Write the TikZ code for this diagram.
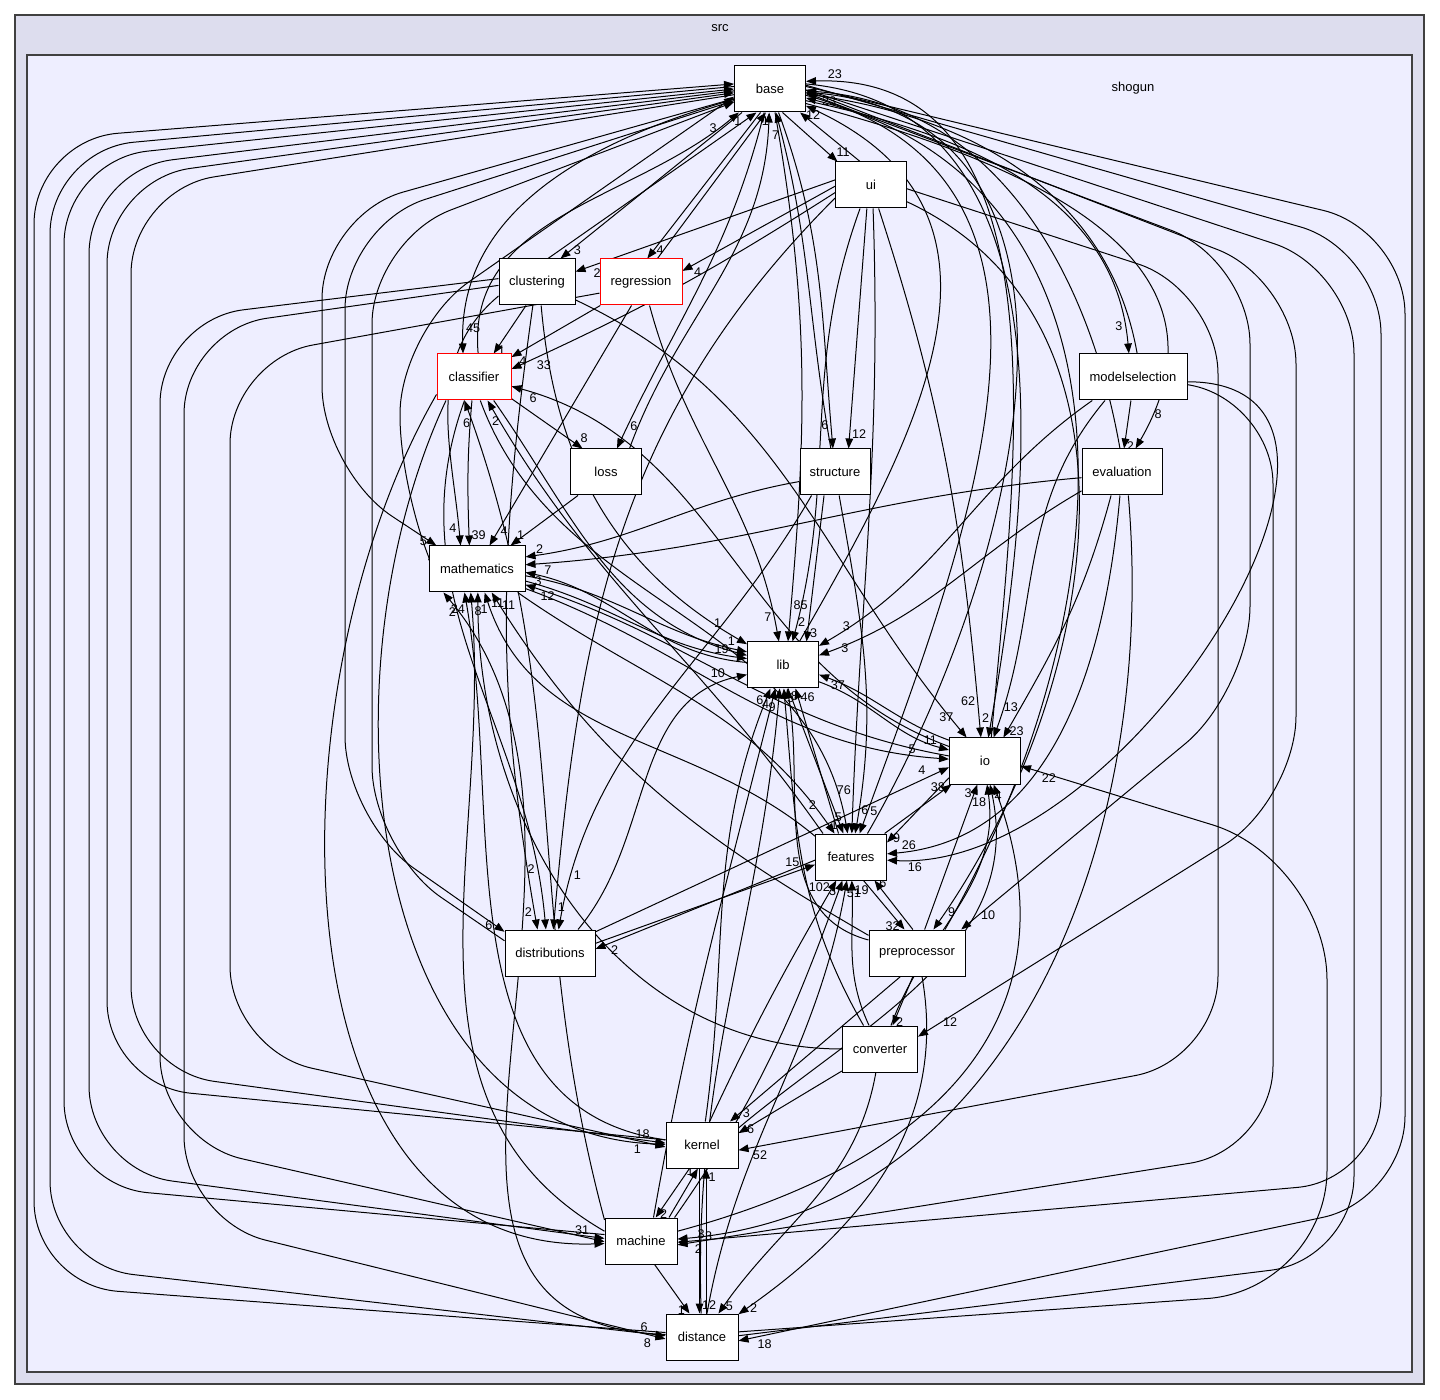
\documentclass[tikz,border=0pt]{standalone}
\usepackage{fontspec}
\setmainfont{Liberation Sans}
\usetikzlibrary{arrows.meta}
\definecolor{srcbg}{HTML}{DDDDEE}
\definecolor{shogunbg}{HTML}{EEEEFF}
\pgfdeclarelayer{background}
\pgfdeclarelayer{edges}
\pgfsetlayers{background,edges,main}

\begin{document}
\begin{tikzpicture}[
  x=0.5pt, y=0.5pt,
  every node/.style={font=\fontsize{6.5}{7}\selectfont},
  cluster/.style={draw=black!75, line width=0.6pt},
  dir/.style={draw=black, fill=white, line width=0.5pt, minimum width=35.5pt, minimum height=23pt, inner sep=2pt},
  reddir/.style={dir, draw=red},
  dep/.style={-{Triangle[length=5pt,width=3.8pt]}, line width=0.5pt},
  route/.style={dep, rounded corners=42pt},
  hl/.style={font=\fontsize{6.3}{6.3}\selectfont, inner sep=1pt, pos=.94},
  hln/.style={hl, pos=.975}
]

\useasboundingbox (0,0) rectangle (1440,-1400);

% === CLUSTERS ===
\begin{pgfonlayer}{background}
\filldraw[cluster, fill=srcbg] (15,-15) rectangle (1424,-1384);
\filldraw[cluster, fill=shogunbg] (27,-55) rectangle (1412,-1372);
\end{pgfonlayer}
\node (srclabel) at (720,-28) {src};
\node (shogunlabel) at (1133,-88) {shogun};

% === DIRECTORIES ===
\node[dir]                        (base)           at (770,-89)   {base};
\node[dir]                        (ui)             at (871,-185)  {ui};
\node[dir, minimum width=38pt]    (clustering)     at (537,-282)  {clustering};
\node[reddir, minimum width=41pt] (regression)     at (641,-282)  {regression};
\node[reddir, minimum width=37pt] (classifier)     at (474,-377)  {classifier};
\node[dir, minimum width=54pt]    (modelselection) at (1133,-377) {modelselection};
\node[dir]                        (loss)           at (606,-472)  {loss};
\node[dir, minimum width=35pt]    (structure)      at (835,-472)  {structure};
\node[dir, minimum width=40pt]    (evaluation)     at (1122,-472) {evaluation};
\node[dir, minimum width=48pt]    (mathematics)    at (477,-569)  {mathematics};
\node[dir]                        (lib)            at (783,-665)  {lib};
\node[dir]                        (io)             at (985,-761)  {io};
\node[dir]                        (features)       at (851,-857)  {features};
\node[dir, minimum width=45pt]    (distributions)  at (550,-953)  {distributions};
\node[dir, minimum width=48pt]    (preprocessor)   at (917,-953)  {preprocessor};
\node[dir, minimum width=37.5pt]  (converter)      at (880,-1049) {converter};
\node[dir, minimum width=36pt]    (kernel)         at (702,-1145) {kernel};
\node[dir, minimum width=36pt]    (machine)        at (641,-1241) {machine};
\node[dir, minimum width=36pt]    (distance)       at (702,-1337) {distance};

\begin{pgfonlayer}{edges}
% === BASE / UI ===
\draw[dep] (ui.115) -- node[hl,right] {12} (base.-38);
\draw[dep] (base.-62) -- node[hl,above right] {11} (ui.145);
\draw[dep] (base.-140) -- node[hl,right] {3} (clustering.45);
\draw[dep] (clustering.65) -- node[hl,left] {1} (base.-120);
\draw[dep] (base.-112) -- node[hl,right] {4} (regression.75);
\draw[dep] (regression.55) -- node[hl,right] {1} (base.-100);
\draw[dep] (ui.172) -- node[hl,below right] {2} (clustering.15);
\draw[dep] (ui.182) -- node[hl,below right] {4} (regression.15);
\draw[dep] (ui.192) to[bend left=4] node[hl,below right] {33} (classifier.12);
\draw[dep] (base.-70) to[out=-70,in=95] node[hl,left] {6} (structure.95);
\draw[dep] (structure.100) to[out=100,in=-75] node[hl,left] {7} (base.-76);
\draw[dep] (ui.-100) -- node[hl,right] {12} (structure.60);
\draw[dep] (base.-18) to[out=-12,in=95] node[hl,left] {3} (modelselection.100);
\draw[dep] (modelselection.80) to[out=100,in=-8] (base.-8);
\draw[dep] (base.-22) to[out=-15,in=60,looseness=1.2] node[hl,right] {8} (evaluation.60);
\draw[dep] (evaluation.95) to[out=100,in=-4] (base.-3);
\draw[dep] (modelselection.-95) -- node[hl,right] {2} (evaluation.85);

% === CLASSIFIER / LOSS ===
\draw[dep] (base.196) to[out=196,in=92] node[hl,right] {45} (classifier.115);
\draw[dep] (classifier.80) to[out=95,in=-140] node[hl,left] {3} (base.-143);
\draw[dep] (clustering.-115) -- node[hl,right] {1} (classifier.50);
\draw[dep] (regression.-150) -- node[hl,below right] {4} (classifier.28);
\draw[dep] (classifier.-30) -- node[hl,above right] {8} (loss.135);
\draw[dep] (base.-104) to[out=-104,in=65] node[hl,right] {6} (loss.65);
\draw[dep] (loss.45) to[out=70,in=-92] (base.-92);
\draw[dep] (machine.150) to[out=105,in=-70] node[hln,left] {6} (classifier.-112);
\draw[dep] (features.140) to[out=125,in=-60] node[hln,below] {2} (classifier.-60);
\draw[dep] (io.158) to[out=160,in=-15] node[hln,below right] {6} (classifier.-14);

% === MATHEMATICS ===
\draw[dep] (classifier.-95) to[out=-95,in=92] node[hl,right] {39} (mathematics.108);
\draw[dep] (clustering.-160) to[out=-140,in=95] node[hl,left] {4} (mathematics.125);
\draw[dep] (regression.-112) -- node[hl,right] {4} (mathematics.62);
\draw[dep] (loss.-140) -- node[hl,above right] {1} (mathematics.35);
\draw[route] (base.195) -- (322,-215) -- (322,-470) -- node[hl,left] {5} (mathematics.150);
\draw[route] (mathematics.168) -- (400,-500) -- (400,-330) -- (base.192);
\draw[dep] (structure.195) to[out=190,in=8] node[hln,above right] {2} (mathematics.14);
\draw[dep] (evaluation.188) to[out=185,in=4] node[hln,below right] {7} (mathematics.5);
\draw[dep] (mathematics.-8) to[out=-10,in=168] node[hl,above] {1} (lib.160);
\draw[dep] (mathematics.-14) to[out=-15,in=172] node[hl,above left] {19} (lib.170);
\draw[dep] (lib.176) to[out=175,in=-12] node[hln,below right] {3} (mathematics.-4);
\draw[dep] (io.172) to[out=170,in=-18] node[hln,below right] {12} (mathematics.-18);
\draw[dep] (mathematics.-22) to[out=-20,in=176] node[hl,above left] {5} (io.177);
\draw[dep] (mathematics.-30) to[out=-35,in=125] node[hl,above left] {2} (features.125);
\draw[dep] (distance.176) to[out=178,in=-50,looseness=1.1] node[hln,left] {2} (mathematics.-145);
\draw[dep] (kernel.172) to[out=172,in=-80] node[hln,left] {24} (mathematics.-118);
\draw[dep] (machine.165) to[out=150,in=-85] node[hln,right] {8} (mathematics.-105);
\draw[dep] (converter.180) to[out=180,in=-90] node[hln,right] {1} (mathematics.-88);
\draw[dep] (features.150) to[out=140,in=-72] node[hln,right] {11} (mathematics.-72);
\draw[dep] (preprocessor.160) to[out=150,in=-58] node[hln,right] {11} (mathematics.-58);

% === LIB ===
\draw[dep] (base.-78) to[out=-80,in=85] node[hl,right] {85} (lib.78);
\draw[dep] (regression.-70) to[out=-75,in=100] node[hl,left] {7} (lib.100);
\draw[dep] (ui.-115) to[out=-110,in=75] node[hln,above right] {2} (lib.68);
\draw[dep] (structure.-115) -- node[hl,right] {3} (lib.45);
\draw[dep] (modelselection.-150) to[out=-145,in=30] node[hl,above right] {3} (lib.28);
\draw[dep] (evaluation.-155) to[out=-150,in=20] node[hl,right] {3} (lib.15);
\draw[dep] (clustering.-80) to[out=-85,in=150] node[hl,above left] {1} (lib.150);
\draw[dep] (classifier.-50) to[out=-55,in=165] (lib.165);
\draw[dep] (lib.55) to[out=60,in=-25,looseness=1.2] (base.-25);
\draw[dep] (lib.-25) to[out=-20,in=165] node[hl,above left] {11} (io.163);
\draw[dep] (io.150) to[out=160,in=-20] node[hl,below right] {37} (lib.-15);
\draw[dep] (features.118) -- node[hl,right] {46} (lib.-62);
\draw[dep] (lib.-78) -- node[hl,left] {1} (features.108);
\draw[dep] (kernel.82) to[out=82,in=-112] node[hln,left] {6} (lib.-118);
\draw[dep] (machine.62) to[out=80,in=-104] node[hln,left] {4} (lib.-108);
\draw[dep] (distance.92) to[out=92,in=-95] node[hln,left] {9} (lib.-98);
\draw[dep] (distributions.40) to[out=50,in=192] node[hl,above left] {10} (lib.195);
\draw[dep] (converter.125) to[out=120,in=-85] node[hln,right] {5} (lib.-88);
\draw[dep] (preprocessor.165) to[out=165,in=-80] node[hln,right] {8} (lib.-80);

% === IO ===
\draw[dep] (ui.-72) to[out=-72,in=95] node[hl,left] {62} (io.100);
\draw[dep] (base.8) to[out=-5,in=80] node[hln,left] {2} (io.82);
\draw[dep] (io.75) to[out=85,in=2] node[hln,above right] {23} (base.12);
\draw[dep] (evaluation.-115) to[out=-105,in=60] node[hln,right] {23} (io.52);
\draw[dep] (modelselection.-140) to[out=-130,in=70] node[hl,above right] {13} (io.70);
\draw[dep] (clustering.-25) to[out=-25,in=130] node[hln,above left] {37} (io.128);
\draw[dep] (features.35) -- node[hl,left] {38} (io.-145);
\draw[dep] (io.-155) -- node[hl,right] {9} (features.22);
\draw[dep] (distributions.25) -- node[hl,above left] {4} (io.-170);
\draw[dep] (preprocessor.72) -- node[hl,left] {3} (io.-108);
\draw[dep] (converter.65) to[out=70,in=-82] node[hl,left] {18} (io.-85);
\draw[dep] (kernel.25) to[out=40,in=-78] node[hln,right] {4} (io.-78);
\draw[dep] (machine.15) to[out=15,in=-70,looseness=1.2] (io.-70);
\draw[route,rounded corners=60pt] (distance.8) -- (1327,-1290) -- (1327,-860) -- node[hl,below right] {22} (io.-8);

% === FEATURES ===
\draw[dep] (ui.-85) to[out=-88,in=88] node[hl,left] {76} (features.88);
\draw[dep] (classifier.-75) to[out=-70,in=100] node[hln,left] {5} (features.98);
\draw[dep] (structure.-80) to[out=-80,in=80] node[hl,right] {6} (features.80);
\draw[dep] (base.-10) to[out=-15,in=70,looseness=1.1] node[hln,right] {5} (features.70);
\draw[dep] (features.55) to[out=60,in=-5,looseness=1.1] (base.-5);
\draw[dep] (evaluation.-95) to[out=-95,in=5] node[hln,above right] {26} (features.5);
\draw[dep] (modelselection.-5) to[out=0,in=-3,looseness=1.1] node[hln,below right] {16} (features.-5);
\draw[dep] (distributions.12) -- node[hl,above left] {15} (features.-168);
\draw[dep] (features.-175) -- node[hl,below right] {2} (distributions.5);
\draw[dep] (features.-62) -- node[hl,left] {32} (preprocessor.118);
\draw[dep] (preprocessor.100) -- node[hl,right] {6} (features.-45);
\draw[dep] (kernel.72) to[out=65,in=-120] node[hln,left] {102} (features.-122);
\draw[dep] (machine.35) to[out=55,in=-110] node[hln,left] {3} (features.-110);
\draw[dep] (distance.78) to[out=80,in=-100] node[hln,right] {51} (features.-100);
\draw[dep] (converter.115) to[out=115,in=-88] node[hl,right] {19} (features.-88);

% === DISTRIBUTIONS ===
\draw[route] (base.198) -- (345,-225) -- (345,-820) -- node[hl,left] {6} (distributions.155);
\draw[route] (distributions.165) -- (372,-850) -- (372,-240) -- (base.200);
\draw[dep] (clustering.-100) to[out=-98,in=100] node[hln,left] {2} (distributions.118);
\draw[dep] (classifier.-112) to[out=-110,in=95] node[hl,pos=.9,left] {2} (distributions.100);
\draw[dep] (ui.-160) to[out=-135,in=85] node[hln,right] {1} (distributions.82);
\draw[dep] (structure.-135) to[out=-120,in=80] node[hl,pos=.9,right] {1} (distributions.70);

% === PREPROCESSOR / CONVERTER ===
\draw[route] (base.-6) -- (1250,-260) -- (1250,-690) -- node[hl,right] {10} (preprocessor.28);
\draw[dep] (ui.-25) to[out=-25,in=55] node[hln,right] {9} (preprocessor.55);
\draw[dep] (preprocessor.40) to[out=60,in=-14,looseness=1.1] (base.-14);
\draw[dep] (preprocessor.-100) -- node[hl,right] {2} (converter.62);
\draw[dep] (preprocessor.-125) -- node[hl,right] {3} (kernel.40);
\draw[dep] (preprocessor.-78) to[out=-80,in=35] node[hln,right] {2} (distance.32);
\draw[route] (base.-2) -- (1296,-280) -- (1296,-800) -- node[hl,right] {12} (converter.18);
\draw[dep] (converter.-150) -- node[hl,right] {6} (kernel.18);
\draw[dep] (converter.-100) to[out=-100,in=55] node[hln,right] {5} (distance.55);

% === KERNEL / MACHINE / DISTANCE (left side) ===
\draw[route] (base.189) -- (131,-190) -- (131,-1070) -- node[hln,above left] {18} (kernel.177);
\draw[route] (kernel.172) -- (107,-1085) -- (107,-180) -- (base.186);
\draw[route] (base.183) -- (89,-170) -- (89,-1170) -- node[hln,above left] {31} (machine.176);
\draw[route] (machine.170) -- (64,-1185) -- (64,-160) -- (base.180);
\draw[route] (base.176) -- (50,-150) -- (50,-1265) -- node[hln,above left] {6} (distance.178);
\draw[route] (distance.173) -- (34,-1285) -- (34,-140) -- (base.172);
\draw[route] (clustering.185) -- (184,-330) -- (184,-1220) -- node[hln,below left] {8} (distance.183);
\draw[route] (clustering.175) -- (160,-320) -- (160,-1140) -- (machine.181);
\draw[dep] (classifier.-140) to[out=-115,in=178] node[hln,below left] {1} (kernel.179);
\draw[dep] (classifier.-155) to[out=-120,in=182] (machine.184);
\draw[route] (regression.-165) -- (230,-360) -- (230,-1050) -- (kernel.183);

% === KERNEL / MACHINE / DISTANCE (right side) ===
\draw[route] (ui.-6) -- (1218,-290) -- (1218,-1060) -- node[hln,below right] {52} (kernel.-8);
\draw[route] (base.4) -- (1405,-230) -- (1405,-1200) -- node[hln,below right] {18} (distance.-6);
\draw[route] (base.6) -- (1381,-250) -- (1381,-1180) -- node[hln,above right] {3} (machine.-2);
\draw[route] (distance.2) -- (1354,-1260) -- (1354,-270) -- node[hln,below right] {23} (base.-1);
\draw[route] (modelselection.-8) -- (1273,-400) -- (1273,-1150) -- node[hln,below right] {2} (machine.-6);
\draw[dep] (evaluation.-75) to[out=-85,in=5] node[hln,right] {3} (machine.3);
\draw[dep] (kernel.-118) -- node[hl,right] {2} (machine.58);
\draw[dep] (machine.40) -- node[hl,left] {1} (kernel.-100);
\draw[dep] (kernel.-96) -- node[hl,right] {12} (distance.96);
\draw[dep] (distance.80) -- node[hl,right] {1} (kernel.-80);
\draw[dep] (machine.-60) -- node[hl,left] {1} (distance.118);
\end{pgfonlayer}

\end{tikzpicture}
\end{document}
